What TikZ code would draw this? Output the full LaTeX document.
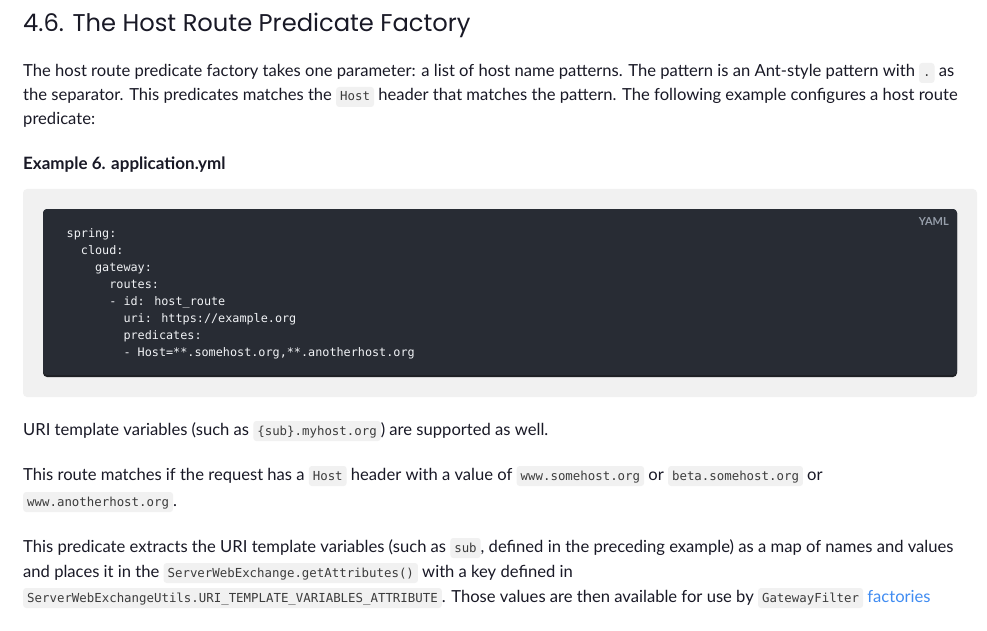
\documentclass[tikz,border=0pt]{standalone}
\usepackage{fontspec}
\setmainfont{Lato}
\newfontfamily\titlefont{Poppins}
\newfontfamily\monofont{DejaVu Sans Mono}
\definecolor{textc}{RGB}{25,25,38}
\definecolor{outerbg}{RGB}{241,241,241}
\definecolor{darkbg}{RGB}{40,44,52}
\definecolor{darkshadow}{RGB}{30,32,36}
\definecolor{codetext}{RGB}{240,242,245}
\definecolor{yamlc}{RGB}{150,158,170}
\definecolor{icbg}{RGB}{241,241,241}
\definecolor{ictext}{RGB}{60,60,60}
\definecolor{linkc}{RGB}{64,140,242}
\tikzset{
  icbox/.style={fill=icbg, rounded corners=3pt, inner xsep=4pt, inner ysep=0pt,
    text height=14pt, text depth=6pt, text=ictext,
    font=\monofont\fontsize{12.4}{14}\selectfont},
  line/.style={anchor=base west, inner sep=0pt, text=textc,
    font=\fontsize{16.6}{20}\selectfont},
  codeline/.style={anchor=base west, inner sep=0pt, text=codetext,
    font=\monofont\fontsize{11.8}{17}\selectfont},
}
\newcommand\ic[1]{\tikz[baseline=(icn.base)]\node[icbox](icn){#1};}
\begin{document}
\begin{tikzpicture}[x=1pt,y=-1pt]
\fill[white] (0,0) rectangle (987,631);
\useasboundingbox (0,0) rectangle (987,631);
% title
\node[anchor=base west, inner sep=0pt, text=textc,
  font=\titlefont\fontsize{24.2}{30}\selectfont] (title) at (23,32)
  {4.6. The Host Route Predicate Factory};
% paragraph 1
\node[line] (p1a) at (23,77) {The host route predicate factory takes one parameter: a list of host name patterns. The pattern is an Ant-style pattern with \ic{.} as};
\node[line] (p1b) at (23,101) {the separator. This predicates matches the \ic{Host} header that matches the pattern. The following example configures a host route};
\node[line] (p1c) at (23,125) {predicate:};
% example title
\node[line, font=\bfseries\fontsize{17}{20}\selectfont] (ex) at (23,170) {Example 6. application.yml};
% code block
\fill[outerbg, rounded corners=4pt] (23,189) rectangle (977,397);
\fill[darkshadow, rounded corners=4pt] (43,209) rectangle (957,377);
\fill[darkbg, rounded corners=4pt] (43,209) rectangle (957,375);
\node[anchor=base east, inner sep=0pt, text=yamlc,
  font=\bfseries\fontsize{11}{12}\selectfont] (yaml) at (949,225) {YAML};
\node[codeline] (c1) at (66.5,237) {spring:};
\node[codeline] (c2) at (80.7,254) {cloud:};
\node[codeline] (c3) at (94.9,271) {gateway:};
\node[codeline] (c4) at (109.1,288) {routes:};
\node[codeline] (c5) at (109.1,305) {- id: host\_route};
\node[codeline] (c6) at (123.3,322) {uri: https://example.org};
\node[codeline] (c7) at (123.3,339) {predicates:};
\node[codeline] (c8) at (123.3,356) {- Host=**.somehost.org,**.anotherhost.org};
% paragraphs below
\node[line] (p2) at (23,435) {URI template variables (such as \ic{\{sub\}.myhost.org}) are supported as well.};
\node[line] (p3a) at (23,480) {This route matches if the request has a \ic{Host} header with a value of \ic{www.somehost.org} or \ic{beta.somehost.org} or};
\node[line] (p3b) at (23,506) {\ic{www.anotherhost.org}.};
\node[line] (p4a) at (23,552) {This predicate extracts the URI template variables (such as \ic{sub}, defined in the preceding example) as a map of names and values};
\node[line] (p4b) at (23,577) {and places it in the \ic{ServerWebExchange.getAttributes()} with a key defined in};
\node[line] (p4c) at (23,602) {\ic{ServerWebExchangeUtils.URI\_TEMPLATE\_VARIABLES\_ATTRIBUTE}. Those values are then available for use by \ic{GatewayFilter} \textcolor{linkc}{factories}};
\end{tikzpicture}
\end{document}
